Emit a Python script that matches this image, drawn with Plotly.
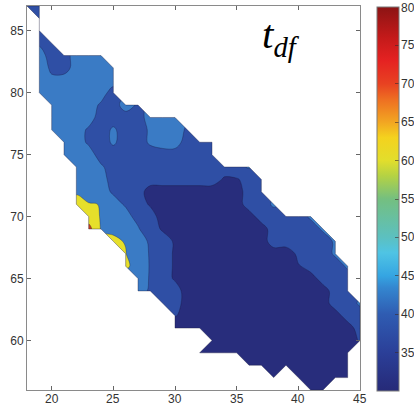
import numpy as np
import plotly.graph_objects as go

# ---------------- data ----------------
x_vals = list(range(18, 46))               # grid columns (x = 18 .. 45)
y_vals_top_down = list(range(87, 55, -1))  # grid rows, top (87) to bottom (56)

# value read for each grid code ('.' = no data)
value_codes = {
    'a': 31.0, 'b': 33.5, 's': 34.6, 't': 35.3, 'c': 36.5, 'd': 38.5,
    'm': 39.5, 'g': 40.5, 'e': 41.5, 'f': 43.0, 'j': 55.0, 'h': 57.0,
    'k': 58.0, 'i': 59.0, 'l': 59.6, 'y': 61.0, 'z': 62.5, 'Y': 63.0, 'R': 68.0,
}

grid_rows = [
    "dd" + "." * 26,                                   # 87
    ".d" + "." * 26,                                   # 86
    ".d" + "." * 26,                                   # 85
    ".md" + "." * 25,                                  # 84
    ".eddefe" + "." * 21,                              # 83
    ".emdeffe" + "." * 20,                             # 82
    ".egeffee" + "." * 20,                             # 81
    ".efffeed" + "." * 20,                             # 80
    "..effemdem" + "." * 18,                           # 79
    "..effeddddeee" + "." * 15,                        # 78
    "..efemdgddgeem" + "." * 14,                       # 77
    "...eemdgddgeedcc" + "." * 12,                     # 76
    "...efe" + "d" * 8 + "cc" + "." * 12,              # 75
    "....eegdd" + "c" * 8 + "dg" + "." * 9,            # 74
    "....eeedd" + "c" * 7 + "sscd" + "." * 8,          # 73
    "....ieemcc" + "b" * 8 + "cd" + "." * 8,           # 72
    "....Yziemcs" + "b" * 7 + "cdg" + "." * 7,         # 71
    ".....Ylfedc" + "b" * 8 + "cdddg" + "." * 4,       # 70
    ".....Rlhegcs" + "b" * 8 + "cdddg" + "." * 3,      # 69
    ".......Yiemcs" + "b" * 7 + "cddddg" + "." * 2,    # 68
    "........yfmcs" + "b" * 8 + "acddg" + "." * 2,     # 67
    "........zjmcs" + "b" * 9 + "scddg" + ".",         # 66
    ".........fmcs" + "b" * 11 + "cdd" + ".",          # 65
    ".........emcc" + "b" * 12 + "cd" + ".",           # 64
    "..........." + "cc" + "b" * 12 + "cdg",           # 63
    "." * 12 + "t" + "b" * 13 + "cd",                  # 62
    "." * 12 + "a" + "b" * 14 + "c",                   # 61
    "." * 15 + "b" * 12 + "t",                         # 60
    "." * 14 + "b" * 13 + ".",                         # 59
    "." * 18 + "b" * 9 + ".",                          # 58
    "." * 20 + "b" + "." + "b" * 5 + ".",              # 57
    "." * 23 + "bb" + "." * 3,                         # 56
]

x_ticks = [20, 25, 30, 35, 40, 45]
y_ticks = [60, 65, 70, 75, 80, 85]
colorbar_ticks = [35, 40, 45, 50, 55, 60, 65, 70, 75, 80]
color_limits = [30, 80]

# ---------------- build grid ----------------
for r in grid_rows:
    assert len(r) == len(x_vals), (r, len(r))
assert len(grid_rows) == len(y_vals_top_down)

ys = y_vals_top_down[::-1]
Z = np.array([[np.nan if ch == '.' else value_codes[ch] for ch in row]
              for row in grid_rows[::-1]], dtype=float)
valid = ~np.isnan(Z)

# ---------------- colours ----------------
navy, medium, light = '#282d7c', '#2f4fa5', '#3a7bc5'
yellow, red = '#e6df2b', '#c8401f'
line_col = 'rgba(25,25,60,0.55)'
label_font = dict(family='Liberation Sans', size=12, color='#333')

jet_like = [
    [0.00, '#262a78'], [0.10, '#2b3f98'], [0.20, '#2f5cb2'], [0.27, '#3487d0'],
    [0.30, '#35a5e2'], [0.36, '#4fc4e4'], [0.40, '#5cc0c0'], [0.50, '#74bf80'],
    [0.56, '#b4d244'], [0.60, '#e2de2c'], [0.66, '#f4d21e'], [0.70, '#f2a622'],
    [0.76, '#ee6e22'], [0.80, '#e84222'], [0.86, '#e52222'], [0.92, '#c41a1a'],
    [1.00, '#8c1414'],
]

fig = go.Figure()

# blue bands (levels 35, 40)
fig.add_trace(go.Contour(
    x=x_vals, y=ys, z=np.minimum(Z, 44.0),
    autocontour=False,
    contours=dict(start=35, end=40, size=5, coloring='fill', showlines=True),
    colorscale=[[0, navy], [0.5, medium], [1, light]],
    line=dict(color=line_col, width=0.6),
    showscale=False, hoverinfo='skip'))

# yellow / red patches (levels 60, 66)
fig.add_trace(go.Contour(
    x=x_vals, y=ys, z=Z,
    autocontour=False,
    contours=dict(start=60, end=66, size=6, coloring='fill', showlines=True),
    colorscale=[[0, 'rgba(255,255,255,0)'], [0.5, yellow], [1, red]],
    line=dict(color=line_col, width=0.6),
    showscale=False, hoverinfo='skip'))

# ---------------- mask of the no-data area + outline ----------------
mask_x, mask_y = [], []
edge_count = {}

def add_poly(pts):
    for (ci, cj) in pts + [pts[0]]:
        mask_x.append(x_vals[ci]); mask_y.append(ys[cj])
    mask_x.append(None); mask_y.append(None)

def add_edges(pts):
    for k in range(len(pts)):
        a, b = pts[k], pts[(k + 1) % len(pts)]
        key = tuple(sorted([a, b]))
        edge_count[key] = edge_count.get(key, 0) + 1

for j in range(len(ys) - 1):
    for i in range(len(x_vals) - 1):
        corners = [(i, j), (i + 1, j), (i + 1, j + 1), (i, j + 1)]
        v = [bool(valid[cj, ci]) for ci, cj in corners]
        n = sum(v)
        if n == 4:
            add_edges(corners)
        elif n == 3:
            k = v.index(False)
            add_poly([corners[(k - 1) % 4], corners[k], corners[(k + 1) % 4]])
            add_edges([corners[(k + 1) % 4], corners[(k + 2) % 4], corners[(k + 3) % 4]])
        else:
            add_poly(corners)

fig.add_trace(go.Scatter(
    x=mask_x, y=mask_y, mode='lines', fill='toself', fillcolor='white',
    line=dict(width=0, color='white'), hoverinfo='skip', showlegend=False))

# outline: piece edges used once, plus isolated edges between two data points
bx, by = [], []
for (a, b), cnt in edge_count.items():
    if cnt == 1:
        bx += [x_vals[a[0]], x_vals[b[0]], None]
        by += [ys[a[1]], ys[b[1]], None]
for j in range(len(ys)):
    for i in range(len(x_vals)):
        if not valid[j, i]:
            continue
        for di, dj in [(1, 0), (0, 1)]:
            i2, j2 = i + di, j + dj
            if i2 < len(x_vals) and j2 < len(ys) and valid[j2, i2]:
                key = tuple(sorted([(i, j), (i2, j2)]))
                if key not in edge_count:
                    bx += [x_vals[i], x_vals[i2], None]
                    by += [ys[j], ys[j2], None]
fig.add_trace(go.Scatter(
    x=bx, y=by, mode='lines', line=dict(color=line_col, width=0.7),
    hoverinfo='skip', showlegend=False, connectgaps=False))

# ---------------- colour bar ----------------
cb_left_px, cb_thick, cb_top_px, cb_len = 377, 22, 7, 384
plot_l, plot_w, plot_b, plot_h = 27, 333, 390, 384

fig.add_trace(go.Scatter(
    x=[None, None], y=[None, None], mode='markers', hoverinfo='skip', showlegend=False,
    marker=dict(color=color_limits, colorscale=jet_like, cmin=color_limits[0],
                cmax=color_limits[1], size=0, showscale=True,
                colorbar=dict(x=(cb_left_px - plot_l) / plot_w, xanchor='left', xpad=0,
                              y=(plot_b - (cb_top_px + cb_len / 2)) / plot_h,
                              yanchor='middle', ypad=0, lenmode='pixels', len=cb_len,
                              thicknessmode='pixels', thickness=cb_thick,
                              outlinewidth=1, outlinecolor='#7a7a7a',
                              ticks='inside', ticklen=4, tickcolor='rgba(60,40,40,0.6)',
                              tickvals=colorbar_ticks, showticklabels=False))))

annotations = []
# colour-bar tick labels, placed from their values (kept inside the canvas)
for v in colorbar_ticks:
    py = cb_top_px + cb_len * (1 - (v - color_limits[0]) / (color_limits[1] - color_limits[0]))
    py = max(py, 8)
    annotations.append(dict(text=str(v), xref='paper', yref='paper',
                            x=(cb_left_px + cb_thick + 1 - plot_l) / plot_w,
                            y=(plot_b - py) / plot_h, xanchor='left', yanchor='middle',
                            showarrow=False, font=label_font, borderpad=0))
# x-axis tick labels, placed through the x axis
for v in x_ticks:
    annotations.append(dict(text=str(v), xref='x', yref='paper', x=v,
                            y=(plot_b - 398.5) / plot_h, xanchor='center', yanchor='middle',
                            showarrow=False, font=label_font, borderpad=0))
# title
annotations.append(dict(
    text='<i>t<sub>df</sub></i>', xref='paper', yref='paper',
    x=(261 - plot_l) / plot_w, y=(plot_b - 10) / plot_h, xanchor='left', yanchor='top',
    showarrow=False, borderpad=0,
    font=dict(family='Liberation Serif, Times New Roman, DejaVu Serif, serif',
              size=41, color='black')))

axis_common = dict(ticks='inside', ticklen=4, tickcolor='#666', showline=True,
                   linecolor='#8a8a8a', linewidth=1, mirror='ticks', showgrid=False,
                   zeroline=False, tickfont=label_font)

fig.update_layout(
    width=414, height=406,
    margin=dict(l=27, r=54, t=6, b=16, autoexpand=False),
    paper_bgcolor='white', plot_bgcolor='white',
    showlegend=False,
    xaxis=dict(range=[18, 45], tickvals=x_ticks, showticklabels=False, **axis_common),
    yaxis=dict(range=[56, 87], tickvals=y_ticks, **axis_common),
    annotations=annotations,
)

# the page's default 8px body margin would shift the figure; remove it
fig.write_html("out.html", config={'displayModeBar': False},
               post_script="document.body.style.margin='0';")
